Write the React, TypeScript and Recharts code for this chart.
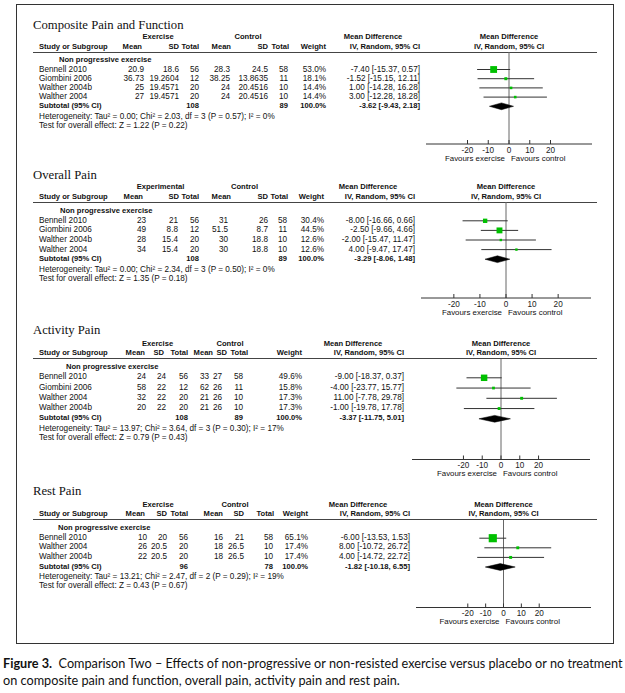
import React from 'react';
import { ScatterChart, Scatter, XAxis, YAxis, ErrorBar, ReferenceLine } from 'recharts';

const SANS = '"Liberation Sans", Arial, sans-serif';
const SERIF = '"Liberation Serif", "Times New Roman", serif';

const axisTicks = [-20, -10, 0, 10, 20];
const subgroupLabel = 'Non progressive exercise';

// Composite Pain and Function
const compStudy = ['Bennell 2010', 'Giombini 2006', 'Walther 2004b', 'Walther 2004'];
const compExMean = ['20.9', '36.73', '25', '27'];
const compExSD = ['18.6', '19.2604', '19.4571', '19.4571'];
const compExN = [56, 12, 20, 20];
const compCtMean = ['28.3', '38.25', '24', '24'];
const compCtSD = ['24.5', '13.8635', '20.4516', '20.4516'];
const compCtN = [58, 11, 10, 10];
const compWeight = [53.0, 18.1, 14.4, 14.4];
const compMD = [-7.4, -1.52, 1.0, 3.0];
const compLo = [-15.37, -15.15, -14.28, -12.28];
const compHi = [0.57, 12.11, 16.28, 18.28];
const compTotals = [108, 89];
const compSub = [-3.62, -9.43, 2.18];
const compHet = 'Heterogeneity: Tau² = 0.00; Chi² = 2.03, df = 3 (P = 0.57); I² = 0%';
const compTest = 'Test for overall effect: Z = 1.22 (P = 0.22)';

// Overall Pain
const overStudy = ['Bennell 2010', 'Giombini 2006', 'Walther 2004b', 'Walther 2004'];
const overExMean = ['23', '49', '28', '34'];
const overExSD = ['21', '8.8', '15.4', '15.4'];
const overExN = [56, 12, 20, 20];
const overCtMean = ['31', '51.5', '30', '30'];
const overCtSD = ['26', '8.7', '18.8', '18.8'];
const overCtN = [58, 11, 10, 10];
const overWeight = [30.4, 44.5, 12.6, 12.6];
const overMD = [-8.0, -2.5, -2.0, 4.0];
const overLo = [-16.66, -9.66, -15.47, -9.47];
const overHi = [0.66, 4.66, 11.47, 17.47];
const overTotals = [108, 89];
const overSub = [-3.29, -8.06, 1.48];
const overHet = 'Heterogeneity: Tau² = 0.00; Chi² = 2.34, df = 3 (P = 0.50); I² = 0%';
const overTest = 'Test for overall effect: Z = 1.35 (P = 0.18)';

// Activity Pain
const actStudy = ['Bennell 2010', 'Giombini 2006', 'Walther 2004', 'Walther 2004b'];
const actExMean = ['24', '58', '32', '20'];
const actExSD = ['24', '22', '22', '22'];
const actExN = [56, 12, 20, 20];
const actCtMean = ['33', '62', '21', '21'];
const actCtSD = ['27', '26', '26', '26'];
const actCtN = [58, 11, 10, 10];
const actWeight = [49.6, 15.8, 17.3, 17.3];
const actMD = [-9.0, -4.0, 11.0, -1.0];
const actLo = [-18.37, -23.77, -7.78, -19.78];
const actHi = [0.37, 15.77, 29.78, 17.78];
const actTotals = [108, 89];
const actSub = [-3.37, -11.75, 5.01];
const actHet = 'Heterogeneity: Tau² = 13.97; Chi² = 3.64, df = 3 (P = 0.30); I² = 17%';
const actTest = 'Test for overall effect: Z = 0.79 (P = 0.43)';

// Rest Pain
const restStudy = ['Bennell 2010', 'Walther 2004', 'Walther 2004b'];
const restExMean = ['10', '26', '22'];
const restExSD = ['20', '20.5', '20.5'];
const restExN = [56, 20, 20];
const restCtMean = ['16', '18', '18'];
const restCtSD = ['21', '26.5', '26.5'];
const restCtN = [58, 10, 10];
const restWeight = [65.1, 17.4, 17.4];
const restMD = [-6.0, 8.0, 4.0];
const restLo = [-13.53, -10.72, -14.72];
const restHi = [1.53, 26.72, 22.72];
const restTotals = [96, 78];
const restSub = [-1.82, -10.18, 6.55];
const restHet = 'Heterogeneity: Tau² = 13.21; Chi² = 2.47, df = 2 (P = 0.29); I² = 19%';
const restTest = 'Test for overall effect: Z = 0.43 (P = 0.67)';

const panels = [
  { title: 'Composite Pain and Function', heads: ['Exercise', 'Control'], study: compStudy, exMean: compExMean, exSD: compExSD, exN: compExN, ctMean: compCtMean, ctSD: compCtSD, ctN: compCtN, weight: compWeight, md: compMD, lo: compLo, hi: compHi, totals: compTotals, sub: compSub, het: compHet, test: compTest },
  { title: 'Overall Pain', heads: ['Experimental', 'Control'], study: overStudy, exMean: overExMean, exSD: overExSD, exN: overExN, ctMean: overCtMean, ctSD: overCtSD, ctN: overCtN, weight: overWeight, md: overMD, lo: overLo, hi: overHi, totals: overTotals, sub: overSub, het: overHet, test: overTest },
  { title: 'Activity Pain', heads: ['Exercise', 'Control'], study: actStudy, exMean: actExMean, exSD: actExSD, exN: actExN, ctMean: actCtMean, ctSD: actCtSD, ctN: actCtN, weight: actWeight, md: actMD, lo: actLo, hi: actHi, totals: actTotals, sub: actSub, het: actHet, test: actTest },
  { title: 'Rest Pain', heads: ['Exercise', 'Control'], study: restStudy, exMean: restExMean, exSD: restExSD, exN: restExN, ctMean: restCtMean, ctSD: restCtSD, ctN: restCtN, weight: restWeight, md: restMD, lo: restLo, hi: restHi, totals: restTotals, sub: restSub, het: restHet, test: restTest },
];

// page layout of each panel (pixels)
const layouts = [
  { title: 30, line: 52, row0: 69.5, gap: 9.2, axisY: 144, axisL: 426, axisR: 592, half: 40, subX: 59,
    cols: [144, 179, 199, 230, 268, 288, 326, 420], hcols: [142, 179, 199, 231, 268, 289, 326, 420], exC: 158, ctC: 248, mdC: 373 },
  { title: 179.5, line: 202, row0: 220.8, gap: 9.6, axisY: 298, axisL: 421, axisR: 591, half: 32.6, subX: 60,
    cols: [146, 178, 199, 228, 268, 287, 324, 415], hcols: [143, 179, 199, 231, 268, 288, 324, 415], exC: 160.5, ctC: 244.5, mdC: 368 },
  { title: 335, line: 358.5, row0: 377.3, gap: 10.25, axisY: 459, axisL: 412, axisR: 590, half: 47.4, subX: 66,
    cols: [146, 166, 188, 209, 222, 243, 302, 404], hcols: [145, 164, 188, 213, 227, 248, 302, 404], exC: 157.5, ctC: 230, mdC: 353 },
  { title: 496, line: 519.5, row0: 537.7, gap: 9.6, axisY: 607, axisL: 416, axisR: 591, half: 49, subX: 58,
    cols: [147, 167, 188, 223, 244, 273, 308, 410], hcols: [145, 167, 188, 223, 244, 274, 308, 410], exC: 158, ctC: 235, mdC: 358 },
];

const fmtCI = (m: number, l: number, h: number) => `${m.toFixed(2)} [${l.toFixed(2)}, ${h.toFixed(2)}]`;

type Align = 'left' | 'right' | 'center';
function T({ x, y, text, align = 'left', bold = false, size }: { x: number; y: number; text: any; align?: Align; bold?: boolean; size?: number }) {
  const s: React.CSSProperties = {
    position: 'absolute', top: y - 5, height: 10, lineHeight: '10px',
    fontSize: size ?? (bold ? 7.6 : 8.2), fontFamily: SANS, fontWeight: bold ? 700 : 400,
    whiteSpace: 'nowrap', color: '#111',
  };
  if (align === 'left') s.left = x;
  else if (align === 'right') s.right = 625 - x;
  else { s.left = x; s.transform = 'translateX(-50%)'; }
  return <div style={s}>{text}</div>;
}

const Square = (props: any) => {
  const { cx, cy, payload } = props;
  const s = 1 + 0.11 * payload.w;
  return <rect x={cx - s / 2} y={cy - s / 2} width={s} height={s} fill="#00c000" />;
};

function Forest({ p, L }: { p: any; L: any }) {
  const width = L.axisR - L.axisL;
  const plotH = L.axisY - L.line;
  const n = p.md.length;
  const pts = p.md.map((m: number, i: number) => ({ x: m, y: i, w: p.weight[i], err: [m - p.lo[i], p.hi[i] - m] }));
  const dh = 3.4 / L.gap;
  const diamond = [
    { x: p.sub[1], y: n }, { x: p.sub[0], y: n - dh }, { x: p.sub[2], y: n },
    { x: p.sub[0], y: n + dh }, { x: p.sub[1], y: n },
  ];
  return (
    <div style={{ position: 'absolute', left: L.axisL, top: L.line }}>
      <ScatterChart width={width} height={plotH + 20} margin={{ top: 0, right: 0, bottom: 0, left: 0 }}>
        <XAxis type="number" dataKey="x" domain={[-L.half, L.half]} ticks={axisTicks} interval={0}
          allowDataOverflow height={20} tickSize={-4} tickMargin={7} stroke="#333"
          tick={{ fontSize: 8.2, fill: '#222', fontFamily: SANS }} />
        <YAxis type="number" dataKey="y" domain={[(L.line - L.row0) / L.gap, (L.axisY - L.row0) / L.gap]}
          reversed hide allowDataOverflow width={0} />
        <ReferenceLine x={0} stroke="#666" />
        <Scatter data={pts} shape={Square} isAnimationActive={false}>
          <ErrorBar dataKey="err" direction="x" width={0} stroke="#333" strokeWidth={1} isAnimationActive={false} />
        </Scatter>
        <Scatter data={diamond} line={{ fill: '#000', stroke: '#000', strokeWidth: 0.5 }} lineType="joint"
          shape={() => <g />} isAnimationActive={false} />
      </ScatterChart>
    </div>
  );
}

function Panel({ p, L }: { p: any; L: any }) {
  const n = p.md.length;
  const h1 = L.line - 15;
  const h2 = L.line - 5.3;
  const subY = L.row0 + n * L.gap;
  const zero = (L.axisL + L.axisR) / 2;
  const c = L.cols;
  const hc = L.hcols;
  return (
    <>
      <div style={{ position: 'absolute', left: 33, top: L.title - 10.6, fontFamily: SERIF, fontSize: 12.7, lineHeight: '12.7px', whiteSpace: 'nowrap', color: '#111' }}>
        {p.title}
      </div>
      <T x={L.exC} y={h1} text={p.heads[0]} align="center" bold />
      <T x={L.ctC} y={h1} text={p.heads[1]} align="center" bold />
      <T x={L.mdC} y={h1} text="Mean Difference" align="center" bold />
      <T x={zero} y={h1} text="Mean Difference" align="center" bold />
      <T x={39} y={h2} text="Study or Subgroup" bold />
      <T x={hc[0]} y={h2} text="Mean" align="right" bold />
      <T x={hc[1]} y={h2} text="SD" align="right" bold />
      <T x={hc[2]} y={h2} text="Total" align="right" bold />
      <T x={hc[3]} y={h2} text="Mean" align="right" bold />
      <T x={hc[4]} y={h2} text="SD" align="right" bold />
      <T x={hc[5]} y={h2} text="Total" align="right" bold />
      <T x={hc[6]} y={h2} text="Weight" align="right" bold />
      <T x={hc[7]} y={h2} text="IV, Random, 95% CI" align="right" bold />
      <T x={zero} y={h2} text="IV, Random, 95% CI" align="center" bold />
      <div style={{ position: 'absolute', left: 33, top: L.line - 0.5, width: 564, height: 1, background: '#444' }} />
      <T x={L.subX} y={L.row0 - 10} text={subgroupLabel} bold />
      {p.study.map((s: string, i: number) => {
        const y = L.row0 + i * L.gap;
        return (
          <React.Fragment key={s}>
            <T x={39} y={y} text={s} />
            <T x={c[0]} y={y} text={p.exMean[i]} align="right" />
            <T x={c[1]} y={y} text={p.exSD[i]} align="right" />
            <T x={c[2]} y={y} text={p.exN[i]} align="right" />
            <T x={c[3]} y={y} text={p.ctMean[i]} align="right" />
            <T x={c[4]} y={y} text={p.ctSD[i]} align="right" />
            <T x={c[5]} y={y} text={p.ctN[i]} align="right" />
            <T x={c[6]} y={y} text={`${p.weight[i].toFixed(1)}%`} align="right" />
            <T x={c[7]} y={y} text={fmtCI(p.md[i], p.lo[i], p.hi[i])} align="right" />
          </React.Fragment>
        );
      })}
      <T x={39} y={subY} text="Subtotal (95% CI)" bold />
      <T x={c[2]} y={subY} text={p.totals[0]} align="right" bold />
      <T x={c[5]} y={subY} text={p.totals[1]} align="right" bold />
      <T x={c[6]} y={subY} text="100.0%" align="right" bold />
      <T x={c[7]} y={subY} text={fmtCI(p.sub[0], p.sub[1], p.sub[2])} align="right" bold />
      <T x={39} y={subY + 10.7} text={p.het} />
      <T x={39} y={subY + 19.7} text={p.test} />
      <Forest p={p} L={L} />
      <T x={zero - 4} y={L.axisY + 14.5} text="Favours exercise" align="right" size={7.9} />
      <T x={zero + 2} y={L.axisY + 14.5} text="Favours control" size={7.9} />
    </>
  );
}

export default function App() {
  return (
    <div style={{ position: 'absolute', left: 0, top: 0, width: 625, height: 693, background: '#fff', overflow: 'hidden' }}>
      <div style={{ position: 'absolute', left: 16, top: 4, width: 598, height: 640, border: '1px solid #333', boxSizing: 'border-box' }} />
      {panels.map((p, i) => <Panel key={p.title} p={p} L={layouts[i]} />)}
      <div style={{ position: 'absolute', left: 3, top: 655, fontFamily: 'Lato, "Open Sans", sans-serif', fontSize: 12.7, lineHeight: '17px', whiteSpace: 'nowrap', color: '#111' }}>
        <b>Figure 3.</b>&nbsp; Comparison Two – Effects of non-progressive or non-resisted exercise versus placebo or no treatment
        <br />
        on composite pain and function, overall pain, activity pain and rest pain.
      </div>
    </div>
  );
}
